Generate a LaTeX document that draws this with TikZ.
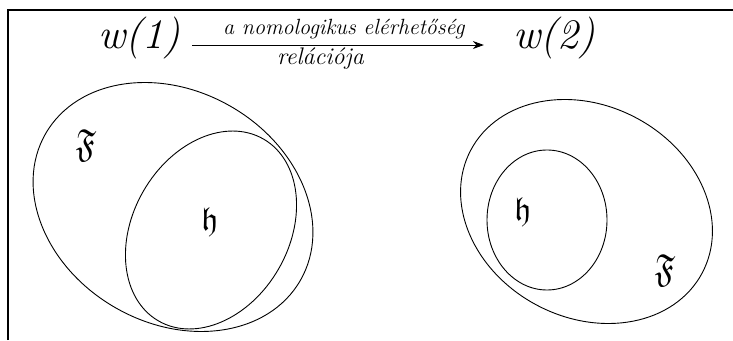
\documentclass[tikz,border=0pt]{standalone}
\usepackage{amssymb}
\usepackage{graphicx}
\usetikzlibrary{arrows.meta}
\tikzset{
  frame/.style={line width=1.5pt, black},
  setline/.style={line width=0.9pt, black},
  world/.style={inner sep=0pt, font=\fontsize{42}{50}\selectfont\itshape, anchor=base},
  arrlabel/.style={inner sep=0pt, font=\fontsize{22}{26}\selectfont\itshape, anchor=base},
  arrlabelb/.style={inner sep=0pt, font=\fontsize{24}{28}\selectfont\itshape, anchor=base},
  arr/.style={line width=0.9pt, -{Stealth[length=11pt,width=8pt]}},
  setlabel/.style={inner sep=0pt}
}
\begin{document}
\begin{tikzpicture}[x=1pt,y=1pt]
\useasboundingbox (0,0) rectangle (733,340);
% frame
\draw[frame] (8,0) -- (8,330) -- (733,330);
% worlds
\node[world] (w1) at (139,291) {w(1)};
\node[world] (w2) at (554,291) {w(2)};
\draw[arr] ([xshift=12pt,yshift=-6.5pt]w1.east) -- ([xshift=-29pt,yshift=-6.5pt]w2.west)
  node[arrlabel, pos=0.52, yshift=11pt] {a nomologikus elérhetőség}
  node[arrlabelb, pos=0.44, yshift=-19pt] {relációja};
% left sets
\draw[setline] (173,133) ellipse [x radius=147, y radius=116, rotate=-30];
\draw[setline] (211,110) ellipse [x radius=105, y radius=78, rotate=60];
\node[setlabel] (F1) at (86,195) {\scalebox{3.3}[3.9]{$\mathfrak{F}$}};
\node[setlabel] (h1) at (210,118) {\scalebox{3.3}{$\mathfrak{h}$}};
% right sets
\draw[setline] (586.5,128.5) ellipse [x radius=131, y radius=106, rotate=-28];
\draw[setline] (547,120) ellipse [x radius=60, y radius=70];
\node[setlabel] (h2) at (523,128) {\scalebox{3.3}{$\mathfrak{h}$}};
\node[setlabel] (F2) at (665,70) {\scalebox{3.3}[3.9]{$\mathfrak{F}$}};
\end{tikzpicture}
\end{document}
